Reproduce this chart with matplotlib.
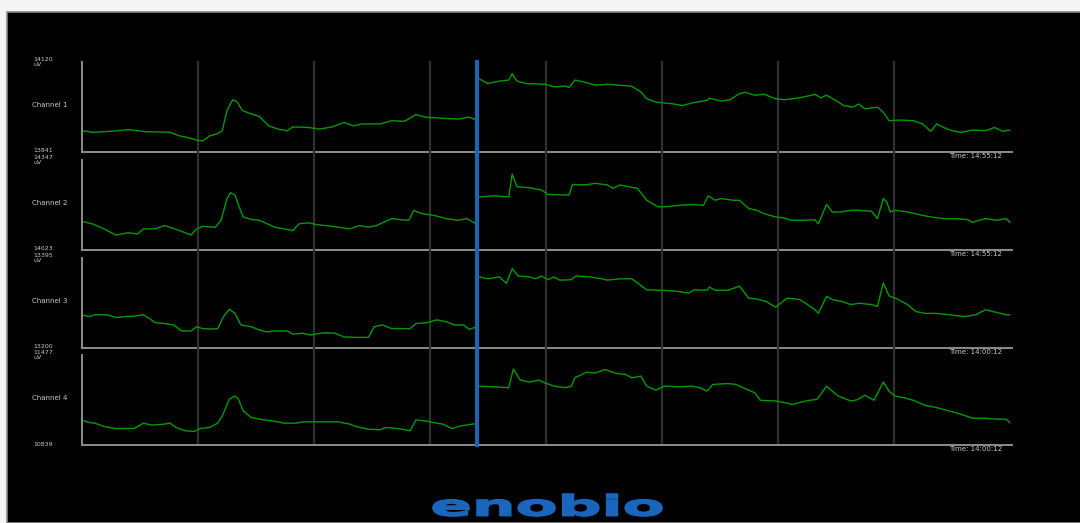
import numpy as np
import matplotlib.pyplot as plt
from matplotlib.patches import Rectangle, PathPatch
from matplotlib.textpath import TextPath
from matplotlib.font_manager import FontProperties
from matplotlib.transforms import Affine2D

# channel setup
channels = ['Channel 1', 'Channel 2', 'Channel 3', 'Channel 4']
y_top = [14120, 14347, 13395, 11477]
y_bottom = [13841, 14023, 13200, 10839]
time_labels = ['Time: 14:55:12', 'Time: 14:55:12', 'Time: 14:00:12', 'Time: 14:00:12']
sweep_pos = 3.41   # current write position of the sweep (s)
t_max = 8.02

# samples: time (s) and amplitude (uV)
ch1_t = [0.0, 0.09, 0.24, 0.40, 0.55, 0.76, 0.84, 0.91, 0.99, 1.04, 1.10, 1.17, 1.21, 1.25, 1.30,
         1.34, 1.38, 1.46, 1.53, 1.61, 1.69, 1.77, 1.82, 1.95, 2.05, 2.16, 2.26, 2.34, 2.41, 2.57,
         2.67, 2.78, 2.88, 2.96, 3.09, 3.24, 3.34, 3.40,
         3.43, 3.50, 3.60, 3.68, 3.71, 3.75, 3.83, 3.99, 4.07, 4.17, 4.20, 4.25, 4.33, 4.43, 4.53,
         4.64, 4.74, 4.82, 4.87, 4.95, 5.10, 5.18, 5.26, 5.39, 5.41, 5.51, 5.59, 5.67, 5.72, 5.80,
         5.88, 5.98, 6.06, 6.19, 6.29, 6.32, 6.37, 6.42, 6.50, 6.57, 6.65, 6.70, 6.75, 6.86, 6.91,
         6.96, 7.06, 7.17, 7.25, 7.32, 7.37, 7.43, 7.50, 7.58, 7.68, 7.79, 7.87, 7.94, 8.0]
ch1_uv = [13907, 13902, 13905, 13910, 13904, 13902, 13891, 13886, 13878, 13875, 13891, 13898, 13907,
          13970, 14003, 13996, 13970, 13959, 13951, 13922, 13912, 13907, 13919, 13917, 13912, 13919,
          13933, 13922, 13928, 13928, 13938, 13936, 13957, 13949, 13946, 13943, 13949, 13940,
          14067, 14053, 14061, 14064, 14084, 14061, 14053, 14051, 14043, 14045, 14041, 14064, 14058,
          14048, 14051, 14048, 14045, 14027, 14006, 13996, 13990, 13985, 13993, 14001, 14008, 13999,
          14003, 14022, 14026, 14017, 14020, 14006, 14003, 14009, 14017, 14020, 14009, 14017, 14001,
          13985, 13980, 13990, 13975, 13980, 13964, 13938, 13940, 13938, 13928, 13905, 13928, 13917,
          13907, 13902, 13909, 13907, 13917, 13905, 13909]

ch2_t = [0.0, 0.09, 0.19, 0.29, 0.40, 0.48, 0.53, 0.63, 0.71, 0.76, 0.84, 0.94, 0.99, 1.04, 1.15,
         1.20, 1.25, 1.28, 1.32, 1.35, 1.39, 1.46, 1.53, 1.60, 1.66, 1.74, 1.82, 1.87, 1.95, 2.03,
         2.10, 2.21, 2.31, 2.39, 2.47, 2.54, 2.67, 2.75, 2.82, 2.86, 2.93, 3.03, 3.14, 3.24, 3.32, 3.40,
         3.43, 3.55, 3.68, 3.71, 3.75, 3.86, 3.96, 4.02, 4.14, 4.20, 4.23, 4.33, 4.43, 4.53, 4.58,
         4.64, 4.71, 4.79, 4.87, 4.97, 5.07, 5.15, 5.26, 5.36, 5.40, 5.46, 5.51, 5.62, 5.67, 5.75,
         5.82, 5.88, 5.98, 6.06, 6.11, 6.21, 6.32, 6.35, 6.42, 6.47, 6.55, 6.63, 6.70, 6.81, 6.86,
         6.91, 6.94, 6.97, 7.01, 7.12, 7.22, 7.32, 7.43, 7.53, 7.63, 7.68, 7.79, 7.89, 7.97, 8.0]
ch2_uv = [14126, 14117, 14099, 14077, 14085, 14081, 14099, 14099, 14111, 14105, 14093, 14077, 14099,
          14108, 14105, 14130, 14208, 14229, 14221, 14184, 14142, 14133, 14130, 14117, 14105, 14099,
          14093, 14117, 14121, 14114, 14111, 14105, 14099, 14111, 14105, 14111, 14136, 14132, 14130,
          14166, 14154, 14148, 14136, 14130, 14136, 14117,
          14214, 14218, 14214, 14296, 14251, 14247, 14239, 14223, 14221, 14221, 14259, 14257, 14263,
          14257, 14245, 14257, 14251, 14245, 14202, 14178, 14180, 14184, 14187, 14184, 14218, 14202,
          14208, 14202, 14202, 14172, 14166, 14154, 14142, 14138, 14130, 14130, 14132, 14117, 14187,
          14160, 14160, 14166, 14166, 14162, 14136, 14208, 14196, 14160, 14166, 14160, 14150, 14142,
          14136, 14136, 14133, 14123, 14136, 14130, 14136, 14123]

ch3_t = [0.0, 0.06, 0.11, 0.22, 0.29, 0.37, 0.45, 0.53, 0.58, 0.63, 0.71, 0.79, 0.86, 0.94, 0.99,
         1.04, 1.10, 1.17, 1.22, 1.27, 1.32, 1.37, 1.46, 1.53, 1.59, 1.66, 1.77, 1.82, 1.90, 1.97,
         2.05, 2.10, 2.18, 2.26, 2.36, 2.47, 2.52, 2.59, 2.67, 2.83, 2.88, 2.98, 3.06, 3.14, 3.21,
         3.29, 3.34, 3.40,
         3.43, 3.50, 3.60, 3.66, 3.71, 3.76, 3.86, 3.91, 3.96, 4.02, 4.07, 4.12, 4.22, 4.26, 4.38,
         4.48, 4.53, 4.64, 4.74, 4.79, 4.87, 5.02, 5.13, 5.23, 5.28, 5.39, 5.41, 5.46, 5.57, 5.67,
         5.75, 5.82, 5.90, 5.98, 6.08, 6.19, 6.24, 6.32, 6.35, 6.42, 6.47, 6.55, 6.63, 6.70, 6.81,
         6.86, 6.91, 6.96, 7.04, 7.12, 7.19, 7.27, 7.37, 7.48, 7.61, 7.71, 7.79, 7.89, 7.97, 8.0]
ch3_uv = [13272, 13268, 13272, 13272, 13266, 13268, 13269, 13272, 13264, 13255, 13253, 13250, 13237,
          13237, 13246, 13242, 13241, 13242, 13268, 13284, 13275, 13250, 13246, 13239, 13235, 13237,
          13237, 13230, 13232, 13228, 13232, 13233, 13232, 13224, 13223, 13223, 13246, 13250, 13242,
          13242, 13253, 13255, 13261, 13257, 13250, 13250, 13240, 13246,
          13354, 13350, 13354, 13340, 13372, 13356, 13354, 13350, 13356, 13348, 13354, 13347, 13348,
          13356, 13354, 13350, 13347, 13350, 13350, 13341, 13326, 13325, 13323, 13319, 13326, 13325,
          13332, 13325, 13325, 13334, 13308, 13306, 13301, 13288, 13308, 13305, 13297, 13283, 13275,
          13312, 13305, 13301, 13294, 13297, 13294, 13290, 13341, 13313, 13305, 13294, 13279, 13275,
          13275, 13272, 13268, 13272, 13283, 13277, 13272, 13272]

ch4_t = [0.0, 0.06, 0.11, 0.19, 0.29, 0.45, 0.53, 0.60, 0.71, 0.76, 0.81, 0.89, 0.97, 1.02, 1.10,
         1.17, 1.21, 1.27, 1.32, 1.35, 1.39, 1.46, 1.53, 1.64, 1.74, 1.85, 1.90, 2.05, 2.21, 2.31,
         2.36, 2.47, 2.57, 2.62, 2.72, 2.83, 2.88, 2.96, 3.03, 3.11, 3.19, 3.27, 3.40,
         3.43, 3.55, 3.68, 3.72, 3.78, 3.86, 3.94, 3.99, 4.07, 4.17, 4.22, 4.25, 4.35, 4.43, 4.51,
         4.61, 4.69, 4.74, 4.82, 4.87, 4.95, 5.02, 5.15, 5.26, 5.33, 5.39, 5.44, 5.57, 5.64, 5.70,
         5.80, 5.85, 5.98, 6.06, 6.13, 6.24, 6.34, 6.42, 6.47, 6.52, 6.63, 6.68, 6.75, 6.83, 6.91,
         6.96, 7.01, 7.09, 7.17, 7.27, 7.37, 7.48, 7.58, 7.68, 7.79, 7.89, 7.97, 8.0]
ch4_uv = [11015, 10998, 10994, 10970, 10956, 10956, 10994, 10980, 10987, 10994, 10963, 10940, 10935,
          10956, 10963, 10994, 11045, 11163, 11186, 11163, 11080, 11034, 11022, 11010, 10994, 10994,
          11003, 11003, 11003, 10987, 10970, 10951, 10947, 10963, 10956, 10940, 11017, 11010, 10998,
          10987, 10956, 10975, 10991,
          11256, 11252, 11245, 11378, 11299, 11285, 11299, 11280, 11256, 11245, 11256, 11315, 11355,
          11350, 11374, 11346, 11339, 11315, 11327, 11256, 11228, 11256, 11252, 11256, 11245, 11221,
          11268, 11275, 11268, 11245, 11210, 11156, 11151, 11139, 11127, 11151, 11163, 11256, 11221,
          11186, 11151, 11158, 11191, 11156, 11285, 11221, 11186, 11174, 11156, 11120, 11104, 11080,
          11057, 11029, 11029, 11022, 11022, 10998]

times = [ch1_t, ch2_t, ch3_t, ch4_t]
signals = [ch1_uv, ch2_uv, ch3_uv, ch4_uv]

W, H = 1080, 523
fx = lambda px: px / W
fy = lambda py: 1 - py / H

fig = plt.figure(figsize=(W / 100, H / 100), dpi=100)
fig.patch.set_facecolor('#f4f4f4')
fig.add_artist(Rectangle((fx(7), 0), 1, fy(12), transform=fig.transFigure,
                         facecolor='black', edgecolor='#8a8a8a', lw=1.2, zorder=0))

panel_tops = [62, 160, 258, 355]
panel_h = 90
label_col = '#c8c8c8'

for i in range(4):
    top = panel_tops[i]
    bot = top + panel_h
    ax = fig.add_axes([fx(82), fy(bot), fx(1012) - fx(82), panel_h / H])
    ax.set_facecolor('none')
    ax.set_xlim(0, t_max)
    ax.set_ylim(y_bottom[i], y_top[i])
    ax.set_xticks([])
    ax.set_yticks([])
    for s in ['top', 'right']:
        ax.spines[s].set_visible(False)
    for s in ['left', 'bottom']:
        ax.spines[s].set_color('#8c8c8c')
        ax.spines[s].set_linewidth(1.4)

    ext = 1.0 if i == 0 else 1.09
    for g in range(1, 8):
        ax.axvline(g, ymin=0, ymax=ext, color='#303030', lw=1.6, clip_on=False, zorder=1)
    ax.axvline(sweep_pos, ymin=0, ymax=ext, color='#1a64b0', lw=3, clip_on=False, zorder=3)

    t = np.array(times[i])
    v = np.array(signals[i])
    old = t < sweep_pos
    ax.plot(t[old], v[old], color='#009a00', lw=1.0, zorder=2)
    ax.plot(t[~old], v[~old], color='#009a00', lw=1.0, zorder=2)

    fig.text(fx(33), fy(top - 2.5), str(y_top[i]), fontsize=4.5, color=label_col, va='center')
    fig.text(fx(33), fy(top + 2.5), 'uV', fontsize=4.5, color=label_col, va='center')
    fig.text(fx(67), fy((top + bot) / 2 - 2), channels[i], fontsize=5, color=label_col,
             va='center', ha='right')
    fig.text(fx(33), fy(bot - 1), str(y_bottom[i]), fontsize=4.5, color=label_col, va='center')
    fig.text(fx(1002), fy(bot + 4), time_labels[i], fontsize=5, color=label_col,
             va='center', ha='right')

# logo
tp = TextPath((0, 0), 'enobio', size=10, prop=FontProperties(family='DejaVu Sans', weight='bold'))
e = tp.get_extents()
tr = (Affine2D().translate(-e.x0, -e.y0)
      .scale((662 - 433) / e.width, (516 - 494) / e.height)
      .translate(433, H - 516).scale(1 / W, 1 / H) + fig.transFigure)
fig.add_artist(PathPatch(tp, transform=tr, facecolor='#1a66bc', edgecolor='#1a66bc',
                         lw=1.2, zorder=5))

fig.savefig('out.png', dpi=100, facecolor=fig.get_facecolor())
